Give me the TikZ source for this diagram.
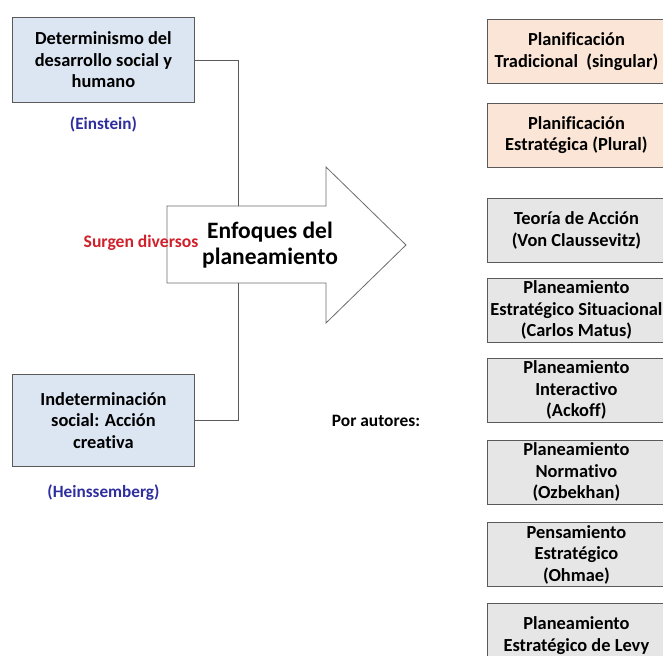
\documentclass[tikz,border=0pt]{standalone}
\usepackage{fontspec}
\setmainfont{Carlito}[Ligatures=NoCommon]
\usepackage{xcolor}
\definecolor{planblue}{HTML}{DCE6F2}
\definecolor{planpeach}{HTML}{FBE5D6}
\definecolor{plangray}{HTML}{E7E6E6}
\definecolor{planedge}{HTML}{5A5A5A}
\definecolor{planauthor}{HTML}{2E2E9E}
\definecolor{planred}{HTML}{D0202A}
\usetikzlibrary{positioning}

\begin{document}
\begin{tikzpicture}[
    x=1pt, y=-1pt,
    box/.style={draw=planedge, line width=0.9pt, align=center, inner sep=1pt, font=\fontsize{18.4}{21.5}\selectfont\bfseries},
    leftbox/.style={box, fill=planblue, minimum width=182pt},
    rightbox/.style={box, minimum width=178pt, minimum height=64pt},
    author/.style={font=\fontsize{17.2}{20}\selectfont\bfseries, text=planauthor},
    link/.style={draw=planedge, line width=0.8pt},
]
\useasboundingbox (0,0) rectangle (663,655);
\clip (0,0) rectangle (663,655);

% Two views
\node[leftbox, minimum height=85pt, anchor=north west] (determ) at (12,17) {Determinismo del\\desarrollo social y\\humano};
\node[author, below=10pt of determ] (einstein) {(Einstein)};
\node[leftbox, minimum height=92pt, anchor=north west] (indeterm) at (12,374) {Indeterminación\\social: Acción\\creativa};
\node[author, below=14pt of indeterm] (heisen) {(Heinssemberg)};

% Big arrow
\coordinate (arrtop) at (238,206);
\coordinate (arrbot) at (238,283);
\draw[draw=gray!85!black, line width=0.8pt, fill=white]
    (167,206) -- (326,206) -- (326,167) -- (406,245) -- (326,323) -- (326,283) -- (167,283) -- cycle;
\node[align=center, font=\fontsize{23.5}{26}\selectfont\bfseries] (enfoques) at (270,245) {Enfoques del\\planeamiento};
\node[font=\fontsize{17.6}{20}\selectfont\bfseries, text=planred] (surgen) at (141,243) {Surgen diversos};

% Links
\draw[link] (determ.east) -| (arrtop);
\draw[link] (indeterm.east) -| (arrbot);

% Approaches
\node[rightbox, fill=planpeach, anchor=north west] (trad) at (487,19) {Planificación\\Tradicional\ \ (singular)};
\node[rightbox, fill=planpeach, below=19pt of trad] (estrat) {Planificación\\Estratégica (Plural)};
\node[rightbox, fill=plangray, below=30pt of estrat] (accion) {Teoría de Acción\\(Von Claussevitz)};
\node[rightbox, fill=plangray, below=15pt of accion] (matus) {Planeamiento\\Estratégico Situacional\\(Carlos Matus)};
\node[rightbox, fill=plangray, below=15pt of matus] (ackoff) {Planeamiento\\Interactivo\\(Ackoff)};
\node[rightbox, fill=plangray, below=17pt of ackoff] (ozbek) {Planeamiento\\Normativo\\(Ozbekhan)};
\node[rightbox, fill=plangray, below=18pt of ozbek] (ohmae) {Pensamiento\\Estratégico\\(Ohmae)};
\node[rightbox, fill=plangray, below=16pt of ohmae] (levy) {Planeamiento\\Estratégico de Levy};

\node[font=\fontsize{17.4}{20}\selectfont\bfseries] (autores) at (376,421) {Por autores:};

\end{tikzpicture}
\end{document}
